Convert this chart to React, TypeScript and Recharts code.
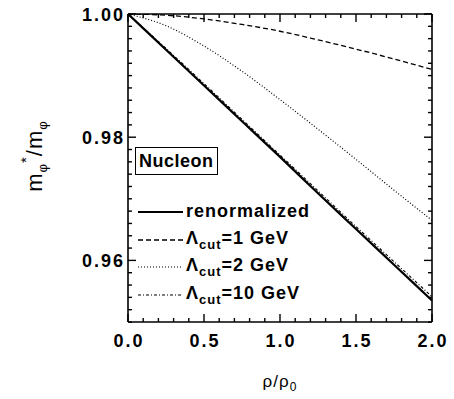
import { Legend, Line, LineChart, XAxis, YAxis } from "recharts";

// density ratio rho/rho0
const rho = [0, 0.25, 0.5, 0.75, 1.0, 1.25, 1.5, 1.75, 2.0];

// m*_phi / m_phi for each calculation
const renormalized = [1.0, 0.9942, 0.9884, 0.9826, 0.9768, 0.9709, 0.9651, 0.9593, 0.9535];
const cut1GeV = [1.0, 0.9998, 0.9992, 0.9983, 0.9972, 0.9958, 0.9943, 0.9927, 0.991];
const cut2GeV = [1.0, 0.9981, 0.9948, 0.9907, 0.9861, 0.9813, 0.9764, 0.9714, 0.9665];
const cut10GeV = [1.0, 0.9944, 0.9887, 0.9829, 0.9771, 0.9713, 0.9655, 0.9598, 0.9541];

const xTicks = [
  0, 0.1, 0.2, 0.3, 0.4, 0.5, 0.6, 0.7, 0.8, 0.9, 1.0, 1.1, 1.2, 1.3, 1.4, 1.5, 1.6, 1.7, 1.8, 1.9, 2.0,
];
const xMajor = [0, 0.5, 1.0, 1.5, 2.0];
const yTicks = [
  0.95, 0.952, 0.954, 0.956, 0.958, 0.96, 0.962, 0.964, 0.966, 0.968, 0.97, 0.972, 0.974, 0.976, 0.978,
  0.98, 0.982, 0.984, 0.986, 0.988, 0.99, 0.992, 0.994, 0.996, 0.998, 1.0,
];
const yMajor = [0.96, 0.98, 1.0];

const chartData = rho.map((r, i) => ({
  rho: r,
  renormalized: renormalized[i],
  cut1: cut1GeV[i],
  cut2: cut2GeV[i],
  cut10: cut10GeV[i],
}));

const FONT = '"Liberation Sans", Arial, Helvetica, sans-serif';

const series = [
  { key: "renormalized", width: 2.2, dash: undefined as string | undefined },
  { key: "cut1", width: 1.3, dash: "5 3" },
  { key: "cut2", width: 1.2, dash: "1 2" },
  { key: "cut10", width: 1.1, dash: "3 2 1 2" },
];

const sub = <sub style={{ fontSize: 13, verticalAlign: "-5px" }}>cut</sub>;
const legendLabels: Record<string, React.ReactNode> = {
  renormalized: "renormalized",
  cut1: <>Λ{sub}=1 GeV</>,
  cut2: <>Λ{sub}=2 GeV</>,
  cut10: <>Λ{sub}=10 GeV</>,
};

function isIn(list: number[], v: number) {
  return list.some((m) => Math.abs(m - v) < 1e-6);
}

function BottomTick({ x, y, payload }: any) {
  const major = isIn(xMajor, payload.value);
  return (
    <g>
      <line x1={x} y1={y} x2={x} y2={y - (major ? 8 : 4)} stroke="#000" strokeWidth={1.4} />
      {major && (
        <text x={x + 1} y={y + 25} textAnchor="middle" fontFamily={FONT} fontSize={18} fontWeight="bold" letterSpacing={2} fill="#000">
          {payload.value.toFixed(1)}
        </text>
      )}
    </g>
  );
}

function TopTick({ x, y, payload }: any) {
  const major = isIn(xMajor, payload.value);
  return <line x1={x} y1={y} x2={x} y2={y + (major ? 8 : 4)} stroke="#000" strokeWidth={1.4} />;
}

function LeftTick({ x, y, payload }: any) {
  const major = isIn(yMajor, payload.value);
  return (
    <g>
      <line x1={x} y1={y} x2={x + (major ? 8 : 4)} y2={y} stroke="#000" strokeWidth={1.4} />
      {major && (
        <text x={x - 3} y={y + 6.5} textAnchor="end" fontFamily={FONT} fontSize={18} fontWeight="bold" letterSpacing={2} fill="#000">
          {payload.value.toFixed(2)}
        </text>
      )}
    </g>
  );
}

function RightTick({ x, y, payload }: any) {
  const major = isIn(yMajor, payload.value);
  return <line x1={x} y1={y} x2={x - (major ? 8 : 4)} y2={y} stroke="#000" strokeWidth={1.4} />;
}

function XTitle({ viewBox }: any) {
  const cx = viewBox.x + viewBox.width / 2;
  return (
    <text x={cx} y={viewBox.y + 65} textAnchor="middle" fontFamily={FONT} fontSize={17} letterSpacing={1} fill="#000">
      ρ/ρ<tspan dy={4} fontSize={12}>0</tspan>
    </text>
  );
}

function YTitle({ viewBox }: any) {
  const bx = 42;
  const cy = viewBox.y + viewBox.height / 2 - 12;
  return (
    <text
      x={bx}
      y={cy}
      transform={`rotate(-90, ${bx}, ${cy})`}
      textAnchor="middle"
      fontFamily={FONT}
      fontSize={22}
      letterSpacing={1}
      fill="#000"
    >
      m<tspan dy={5} fontSize={13}>φ</tspan>
      <tspan dy={-16} fontSize={15}>*</tspan>
      <tspan dy={11}>/m</tspan>
      <tspan dy={5} fontSize={13}>φ</tspan>
    </text>
  );
}

function LegendBox() {
  return (
    <div style={{ fontFamily: FONT, color: "#000" }}>
      <div
        style={{
          display: "inline-block",
          border: "1.5px solid #000",
          height: 26,
          lineHeight: "26px",
          padding: "0 3px",
          fontSize: 18,
          fontWeight: "bold",
          letterSpacing: 0.5,
        }}
      >
        Nucleon
      </div>
      <div style={{ marginTop: 23 }}>
        {series.map((s) => (
          <div key={s.key} style={{ display: "flex", alignItems: "center", height: 27.7, paddingLeft: 3 }}>
            <svg width={45} height={10} style={{ marginRight: 3 }}>
              <line x1={0} y1={5} x2={45} y2={5} stroke="#000" strokeWidth={s.width} strokeDasharray={s.dash} />
            </svg>
            <span style={{ fontSize: 18, fontWeight: "bold", letterSpacing: 1, whiteSpace: "nowrap" }}>
              {legendLabels[s.key]}
            </span>
          </div>
        ))}
      </div>
    </div>
  );
}

export default function App() {
  return (
    <div style={{ position: "absolute", left: 0, top: 0, width: 454, height: 399, background: "#fff" }}>
      <LineChart width={454} height={399} data={chartData} margin={{ top: 0, right: 0, bottom: 0, left: 0 }}>
        <XAxis
          xAxisId="bottom"
          dataKey="rho"
          type="number"
          domain={[0, 2]}
          ticks={xTicks}
          interval={0}
          height={77}
          tickSize={0}
          tickMargin={0}
          tickLine={false}
          axisLine={{ stroke: "#000", strokeWidth: 1.6 }}
          tick={(p: any) => <BottomTick {...p} />}
          label={{ content: (p: any) => <XTitle {...p} /> }}
        />
        <XAxis
          xAxisId="top"
          orientation="top"
          dataKey="rho"
          type="number"
          domain={[0, 2]}
          ticks={xTicks}
          interval={0}
          height={14}
          tickSize={0}
          tickMargin={0}
          tickLine={false}
          axisLine={{ stroke: "#000", strokeWidth: 1.6 }}
          tick={(p: any) => <TopTick {...p} />}
        />
        <YAxis
          yAxisId="left"
          type="number"
          domain={[0.95, 1.0]}
          allowDataOverflow
          ticks={yTicks}
          interval={0}
          width={128}
          tickSize={0}
          tickMargin={0}
          tickLine={false}
          axisLine={{ stroke: "#000", strokeWidth: 1.6 }}
          tick={(p: any) => <LeftTick {...p} />}
          label={{ content: (p: any) => <YTitle {...p} /> }}
        />
        <YAxis
          yAxisId="right"
          orientation="right"
          type="number"
          domain={[0.95, 1.0]}
          allowDataOverflow
          ticks={yTicks}
          interval={0}
          width={22}
          tickSize={0}
          tickMargin={0}
          tickLine={false}
          axisLine={{ stroke: "#000", strokeWidth: 1.6 }}
          tick={(p: any) => <RightTick {...p} />}
        />
        <Legend
          layout="vertical"
          align="center"
          verticalAlign="middle"
          wrapperStyle={{ left: 135, top: 147, width: 220 }}
          content={() => <LegendBox />}
        />
        {series.map((s) => (
          <Line
            key={s.key}
            xAxisId="bottom"
            yAxisId="left"
            dataKey={s.key}
            type="monotone"
            stroke="#000"
            strokeWidth={s.width}
            strokeDasharray={s.dash}
            dot={false}
            activeDot={false}
            isAnimationActive={false}
          />
        ))}
      </LineChart>
    </div>
  );
}
